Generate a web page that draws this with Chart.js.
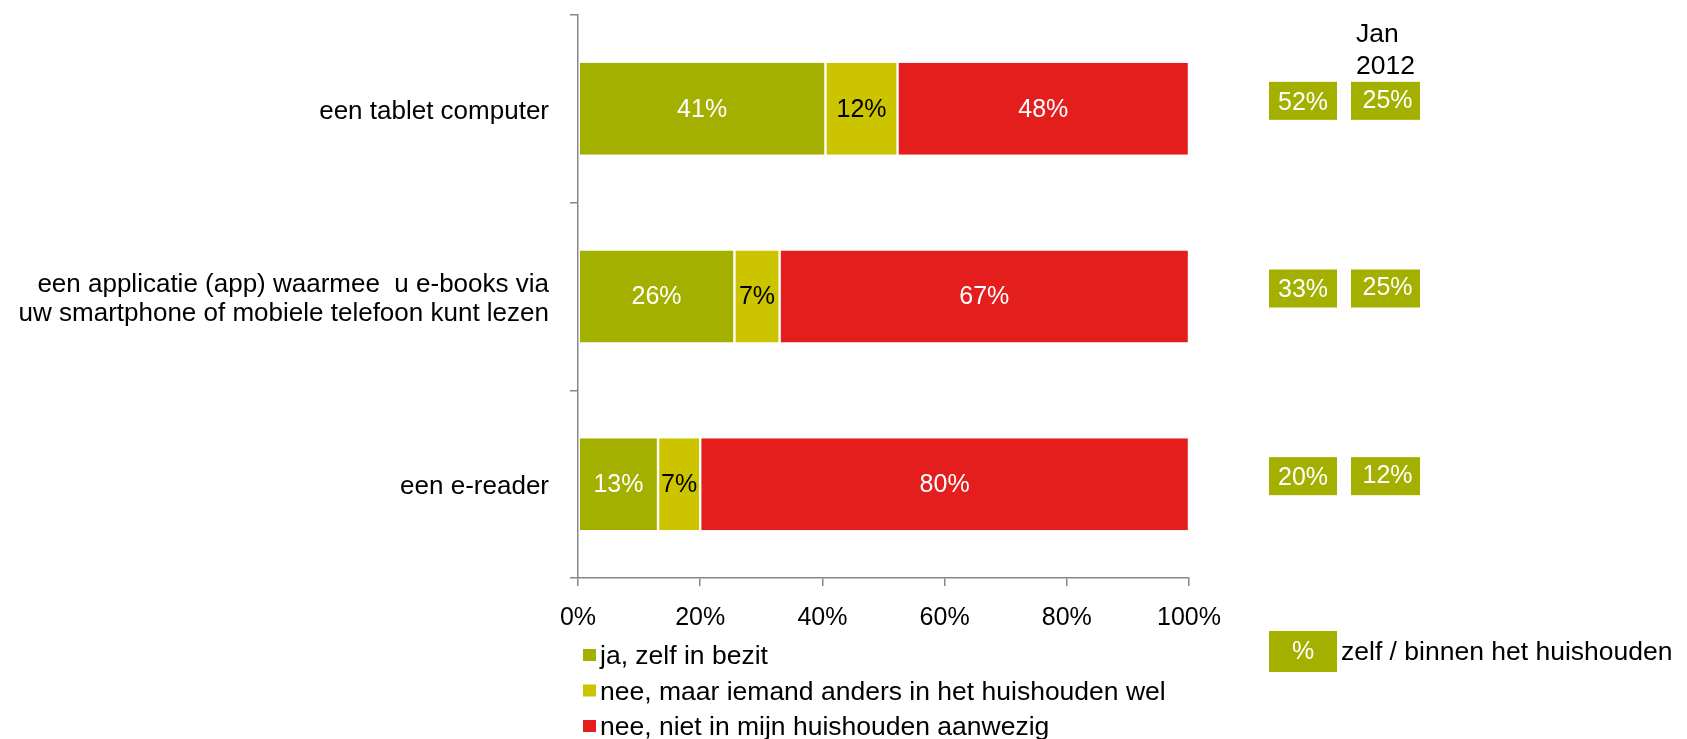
<!DOCTYPE html>
<html>
<head>
<meta charset="utf-8">
<script src="https://cdn.jsdelivr.net/npm/chart.js@4.4.1/dist/chart.umd.min.js"></script>
<style>
  html, body { margin: 0; padding: 0; background: #fff; }
  #wrap { width: 1687px; height: 739px; }
</style>
</head>
<body>
<div id="wrap"><canvas id="c" width="1687" height="739"></canvas></div>
<script>
// ---- data ----
const categories = [
  'een tablet computer',
  ['een applicatie (app) waarmee  u e-books via', 'uw smartphone of mobiele telefoon kunt lezen'],
  'een e-reader'
];
const seriesNames = [
  'ja, zelf in bezit',
  'nee, maar iemand anders in het huishouden wel',
  'nee, niet in mijn huishouden aanwezig'
];
const zelfInBezit = [40.5, 25.6, 13.1];
const anderInHuishouden = [11.8, 7.4, 6.9];
const nietAanwezig = [47.7, 67.0, 80.0];
const totaalHuishouden = [52, 33, 20];
const jan2012 = [25, 25, 12];
const janHeader = ['Jan', '2012'];
const xTickValues = [0, 20, 40, 60, 80, 100];
const sideLegendText = 'zelf / binnen het huishouden';

const GREEN = '#A3B000';
const YELLOW = '#CDC400';
const RED = '#E31E1C';
const AXIS = '#878787';
const FONT = "'Liberation Sans', Arial, sans-serif";
const FS = 25;
const FS_LEG = 26.5;

Chart.defaults.font.family = FONT;
Chart.defaults.font.size = FS;
Chart.defaults.color = '#000';

const valueLabels = {
  id: 'valueLabels',
  afterDatasetsDraw(chart) {
    const ctx = chart.ctx;
    ctx.save();
    ctx.font = FS + 'px ' + FONT;
    ctx.textAlign = 'center';
    ctx.textBaseline = 'middle';
    chart.data.datasets.forEach((ds, di) => {
      const meta = chart.getDatasetMeta(di);
      meta.data.forEach((el, i) => {
        const v = Math.round(ds.data[i]);
        ctx.fillStyle = di === 1 ? '#000' : '#fff';
        ctx.fillText(v + '%', (el.x + el.base) / 2, el.y + 1);
      });
    });
    ctx.restore();
  }
};

const extras = {
  id: 'extras',
  afterDraw(chart) {
    const ctx = chart.ctx;
    const ys = chart.scales.y;
    const ca = chart.chartArea;
    ctx.save();
    // bottom-left legend
    ctx.font = FS_LEG + 'px ' + FONT;
    chart.data.datasets.forEach((ds, di) => {
      const y = 656 + di * 35.5;
      ctx.fillStyle = ds.backgroundColor;
      ctx.fillRect(583, y - 7, 13, 12);
      ctx.fillStyle = '#000';
      ctx.textAlign = 'left';
      ctx.textBaseline = 'middle';
      ctx.fillText(ds.label, 600, y + 1);
    });
    // right side boxes
    const b1x = ca.right + 80, b2x = ca.right + 162;
    const bw1 = 68, bw2 = 69, bh = 38;
    ctx.textAlign = 'left';
    ctx.textBaseline = 'middle';
    ctx.fillStyle = '#000';
    ctx.font = FS_LEG + 'px ' + FONT;
    ctx.fillText(janHeader[0], b2x + 5, 35);
    ctx.fillText(janHeader[1], b2x + 5, 67);
    ctx.font = FS + 'px ' + FONT;
    categories.forEach((c, i) => {
      const yc = ys.getPixelForValue(i) - 8;
      ctx.fillStyle = GREEN;
      ctx.fillRect(b1x, yc - bh / 2, bw1, bh);
      ctx.fillRect(b2x, yc - bh / 2, bw2, bh);
      ctx.fillStyle = '#fff';
      ctx.textAlign = 'center';
      ctx.fillText(totaalHuishouden[i] + '%', b1x + bw1 / 2, yc + 2);
      ctx.fillText(jan2012[i] + '%', b2x + bw2 / 2 + 2, yc);
    });
    // side legend
    ctx.fillStyle = GREEN;
    ctx.fillRect(b1x, 631, 68, 41);
    ctx.fillStyle = '#fff';
    ctx.textAlign = 'center';
    ctx.fillText('%', b1x + 34, 652);
    ctx.fillStyle = '#000';
    ctx.textAlign = 'left';
    ctx.font = FS_LEG + 'px ' + FONT;
    ctx.fillText(sideLegendText, b1x + 72, 653);
    ctx.restore();
  }
};

new Chart(document.getElementById('c'), {
  type: 'bar',
  data: {
    labels: categories,
    datasets: [
      { label: seriesNames[0], data: zelfInBezit, backgroundColor: GREEN },
      { label: seriesNames[1], data: anderInHuishouden, backgroundColor: YELLOW },
      { label: seriesNames[2], data: nietAanwezig, backgroundColor: RED }
    ]
  },
  options: {
    indexAxis: 'y',
    responsive: false,
    animation: false,
    datasets: {
      bar: {
        barPercentage: 0.49,
        categoryPercentage: 1.0,
        borderColor: '#ffffff',
        borderWidth: { top: 0, bottom: 0, left: 1.2, right: 1.2 },
        borderSkipped: false
      }
    },
    layout: { padding: { top: 15, right: 498, bottom: 0, left: 0 } },
    plugins: { legend: { display: false }, tooltip: { enabled: false } },
    scales: {
      x: {
        stacked: true,
        min: 0, max: 100,
        afterBuildTicks: s => { s.ticks = xTickValues.map(v => ({ value: v })); },
        afterFit: s => { s.height = 161; s.paddingLeft = 0; s.paddingRight = 0; },
        ticks: { callback: v => v + '%', padding: 17, color: '#000', maxRotation: 0 },
        grid: { drawOnChartArea: false, drawTicks: true, tickLength: 8, color: AXIS, lineWidth: 1.5 },
        border: { color: AXIS, width: 1.5 }
      },
      y: {
        stacked: true,
        afterFit: s => { s.width = 578; s.paddingTop = 0; s.paddingBottom = 0; },
        ticks: { padding: 21, color: '#000', labelOffset: 3, font: { size: 26, lineHeight: 1.1 } },
        grid: { drawOnChartArea: false, drawTicks: true, tickLength: 8, offset: true, color: AXIS, lineWidth: 1.5 },
        border: { color: AXIS, width: 1.5 }
      }
    }
  },
  plugins: [valueLabels, extras]
});
</script>
</body>
</html>
